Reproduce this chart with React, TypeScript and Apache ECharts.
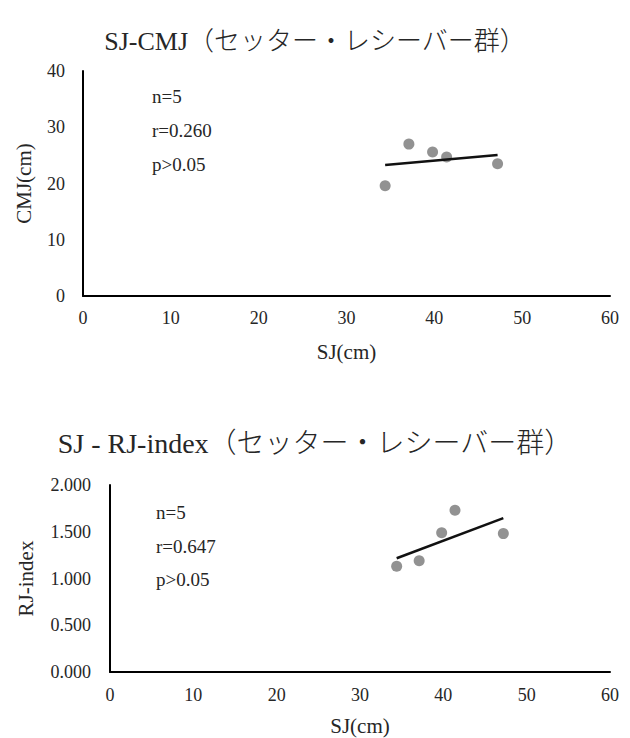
import React, { useEffect, useRef } from "react";
import * as echarts from "echarts";

const titleTop = "SJ-CMJ（セッター・レシーバー群）";
const titleBottom = "SJ - RJ-index（セッター・レシーバー群）";
const sjValues = [34.4, 37.1, 39.8, 41.4, 47.2];
const cmjValues = [19.6, 27.0, 25.6, 24.7, 23.5];
const rjValues = [1.13, 1.19, 1.49, 1.73, 1.48];
const statsTop = ["n=5", "r=0.260", "p>0.05"];
const statsBottom = ["n=5", "r=0.647", "p>0.05"];
const xName = "SJ(cm)";
const yNameTop = "CMJ(cm)";
const yNameBottom = "RJ-index";

const FONT = "'Liberation Serif', 'Noto Sans CJK JP', serif";

function regressionEnds(xs: number[], ys: number[]) {
  const n = xs.length;
  const mx = xs.reduce((a, b) => a + b, 0) / n;
  const my = ys.reduce((a, b) => a + b, 0) / n;
  let sxy = 0;
  let sxx = 0;
  for (let i = 0; i < n; i++) {
    sxy += (xs[i] - mx) * (ys[i] - my);
    sxx += (xs[i] - mx) * (xs[i] - mx);
  }
  const slope = sxy / sxx;
  const icpt = my - slope * mx;
  const x0 = Math.min(...xs);
  const x1 = Math.max(...xs);
  return [
    [x0, icpt + slope * x0],
    [x1, icpt + slope * x1],
  ];
}

export default function App() {
  const ref = useRef<HTMLDivElement>(null);
  useEffect(() => {
    if (!ref.current) return;
    const chart = echarts.init(ref.current, null, { renderer: "svg" });
    const topPts = sjValues.map((x, i) => [x, cmjValues[i]]);
    const botPts = sjValues.map((x, i) => [x, rjValues[i]]);
    const labelStyle = { color: "#262626", fontFamily: FONT, fontSize: 18 };
    const axisLine = { show: true, lineStyle: { color: "#000", width: 2 } };
    const nameStyle = { color: "#262626", fontFamily: FONT, fontSize: 21 };
    const statText = (lines: string[], left: number, tops: number[]) =>
      lines.map((t, i) => ({
        type: "text",
        left,
        top: tops[i],
        style: { text: t, fill: "#262626", font: `19px ${FONT}` },
      }));
    chart.setOption({
      animation: false,
      backgroundColor: "#fff",
      title: [
        {
          text: titleTop,
          left: "center",
          top: 23,
          textStyle: { fontFamily: FONT, fontSize: 26, fontWeight: 300, color: "#262626" },
        },
        {
          text: titleBottom,
          left: "center",
          top: 424,
          textStyle: { fontFamily: FONT, fontSize: 28, fontWeight: 300, color: "#262626" },
        },
      ],
      grid: [
        { left: 83, top: 71, width: 527, height: 225 },
        { left: 110, top: 485, width: 500, height: 187 },
      ],
      xAxis: [
        {
          type: "value",
          gridIndex: 0,
          min: 0,
          max: 60,
          interval: 10,
          axisLine,
          axisTick: { show: false },
          splitLine: { show: false },
          axisLabel: { ...labelStyle, margin: 13 },
          name: xName,
          nameLocation: "middle",
          nameGap: 45,
          nameTextStyle: nameStyle,
        },
        {
          type: "value",
          gridIndex: 1,
          min: 0,
          max: 60,
          interval: 10,
          axisLine,
          axisTick: { show: false },
          splitLine: { show: false },
          axisLabel: { ...labelStyle, margin: 14 },
          name: xName,
          nameLocation: "middle",
          nameGap: 43,
          nameTextStyle: nameStyle,
        },
      ],
      yAxis: [
        {
          type: "value",
          gridIndex: 0,
          min: 0,
          max: 40,
          interval: 10,
          axisLine,
          axisTick: { show: false },
          splitLine: { show: false },
          axisLabel: { ...labelStyle, margin: 18 },
          name: yNameTop,
          nameLocation: "middle",
          nameGap: 49,
          nameTextStyle: nameStyle,
        },
        {
          type: "value",
          gridIndex: 1,
          min: 0,
          max: 2,
          interval: 0.5,
          axisLine,
          axisTick: { show: false },
          splitLine: { show: false },
          axisLabel: { ...labelStyle, margin: 19, formatter: (v: number) => v.toFixed(3) },
          name: yNameBottom,
          nameLocation: "middle",
          nameGap: 74,
          nameTextStyle: nameStyle,
        },
      ],
      series: [
        {
          type: "scatter",
          xAxisIndex: 0,
          yAxisIndex: 0,
          data: topPts,
          symbolSize: 11,
          itemStyle: { color: "#777" },
          z: 3,
        },
        {
          type: "line",
          xAxisIndex: 0,
          yAxisIndex: 0,
          data: regressionEnds(sjValues, cmjValues),
          showSymbol: false,
          symbol: "none",
          lineStyle: { color: "#111", width: 2.5 },
          z: 4,
        },
        {
          type: "scatter",
          xAxisIndex: 1,
          yAxisIndex: 1,
          data: botPts,
          symbolSize: 11,
          itemStyle: { color: "#777" },
          z: 3,
        },
        {
          type: "line",
          xAxisIndex: 1,
          yAxisIndex: 1,
          data: regressionEnds(sjValues, rjValues),
          showSymbol: false,
          symbol: "none",
          lineStyle: { color: "#111", width: 2.5 },
          z: 4,
        },
      ],
      graphic: [
        ...statText(statsTop, 152, [87, 121, 155]),
        ...statText(statsBottom, 156, [503, 537, 570]),
      ],
    });
    return () => chart.dispose();
  }, []);
  return (
    <div
      ref={ref}
      style={{ position: "fixed", left: 0, top: 0, width: 630, height: 738, background: "#fff" }}
    />
  );
}
